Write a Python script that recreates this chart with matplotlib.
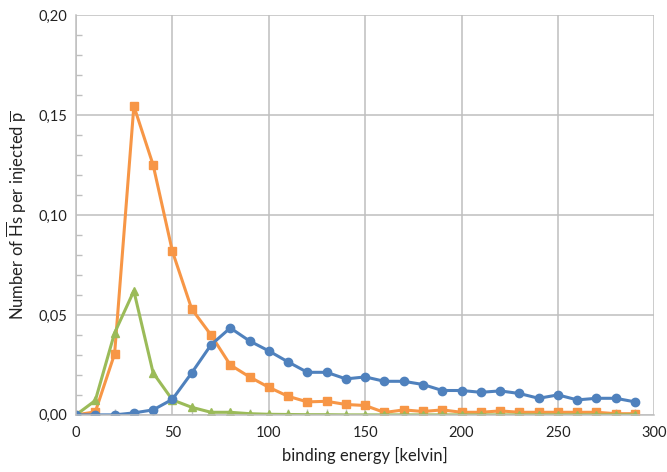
import matplotlib.pyplot as plt
from matplotlib.ticker import MultipleLocator, FuncFormatter

plt.rcParams['font.family'] = ['Lato', 'DejaVu Sans']
plt.rcParams['mathtext.fontset'] = 'custom'
plt.rcParams['mathtext.rm'] = 'Lato'
plt.rcParams['mathtext.it'] = 'Lato:italic'

# data
energy = list(range(0, 300, 10))
blue = [0.000, 0.000, 0.000, 0.001, 0.0025, 0.0078, 0.021, 0.035, 0.0435, 0.037,
        0.032, 0.0265, 0.0213, 0.0213, 0.018, 0.019, 0.0168, 0.0168, 0.0152, 0.0122,
        0.0122, 0.0113, 0.012, 0.0107, 0.0083, 0.010, 0.0075, 0.0083, 0.0083, 0.0065]
orange = [0.000, 0.0015, 0.0305, 0.1545, 0.125, 0.0818, 0.053, 0.040, 0.025, 0.019,
          0.0138, 0.0093, 0.0065, 0.0068, 0.0052, 0.0047, 0.0012, 0.0025, 0.0017, 0.0025,
          0.0013, 0.0013, 0.002, 0.0013, 0.0013, 0.0013, 0.0013, 0.0013, 0.0006, 0.0006]
green = [0.000, 0.0072, 0.041, 0.062, 0.021, 0.0075, 0.0038, 0.0013, 0.0013, 0.0006,
         0.0003, 0.0002, 0.0001, 0.0001, 0.0, 0.0, 0.0, 0.0, 0.0, 0.0,
         0.0, 0.0, 0.0, 0.0, 0.0, 0.0, 0.0, 0.0, 0.0, 0.0]

fig = plt.figure(figsize=(6.67, 4.72), dpi=100)
ax = fig.add_axes([0.114, 0.121, 0.867, 0.847])

ax.plot(energy, orange, color='#F79646', marker='s', markersize=5.5, linewidth=2.2)
ax.plot(energy, green, color='#9BBB59', marker='^', markersize=6, linewidth=2.2)
ax.plot(energy, blue, color='#4F81BD', marker='o', markersize=6, linewidth=2.2)

ax.set_xlim(0, 300)
ax.set_ylim(0, 0.20)
ax.xaxis.set_major_locator(MultipleLocator(50))
ax.xaxis.set_minor_locator(MultipleLocator(10))
ax.yaxis.set_major_locator(MultipleLocator(0.05))
ax.yaxis.set_minor_locator(MultipleLocator(0.01))
ax.yaxis.set_major_formatter(FuncFormatter(lambda v, p: f'{v:.2f}'.replace('.', ',')))

ax.grid(True, which='major', color='#BFBFBF', linewidth=1.1)
ax.set_axisbelow(True)
for s in ['top', 'right']:
    ax.spines[s].set_visible(False)
for s in ['left', 'bottom']:
    ax.spines[s].set_color('#BFBFBF')
    ax.spines[s].set_linewidth(1.1)
ax.tick_params(which='major', length=0, labelsize=10.5, colors='#222222', pad=6)
ax.tick_params(which='minor', direction='in', length=4, color='#BFBFBF', width=1)
ax.tick_params(axis='x', which='major', pad=8)

ax.set_xlabel('binding energy [kelvin]', fontsize=12, color='#222222', labelpad=5)
ax.set_ylabel(r'Number of $\overline{\mathrm{H}}$s per injected $\overline{\mathrm{p}}$',
              fontsize=12, color='#222222', labelpad=7)

fig.savefig('out.png', dpi=100)
